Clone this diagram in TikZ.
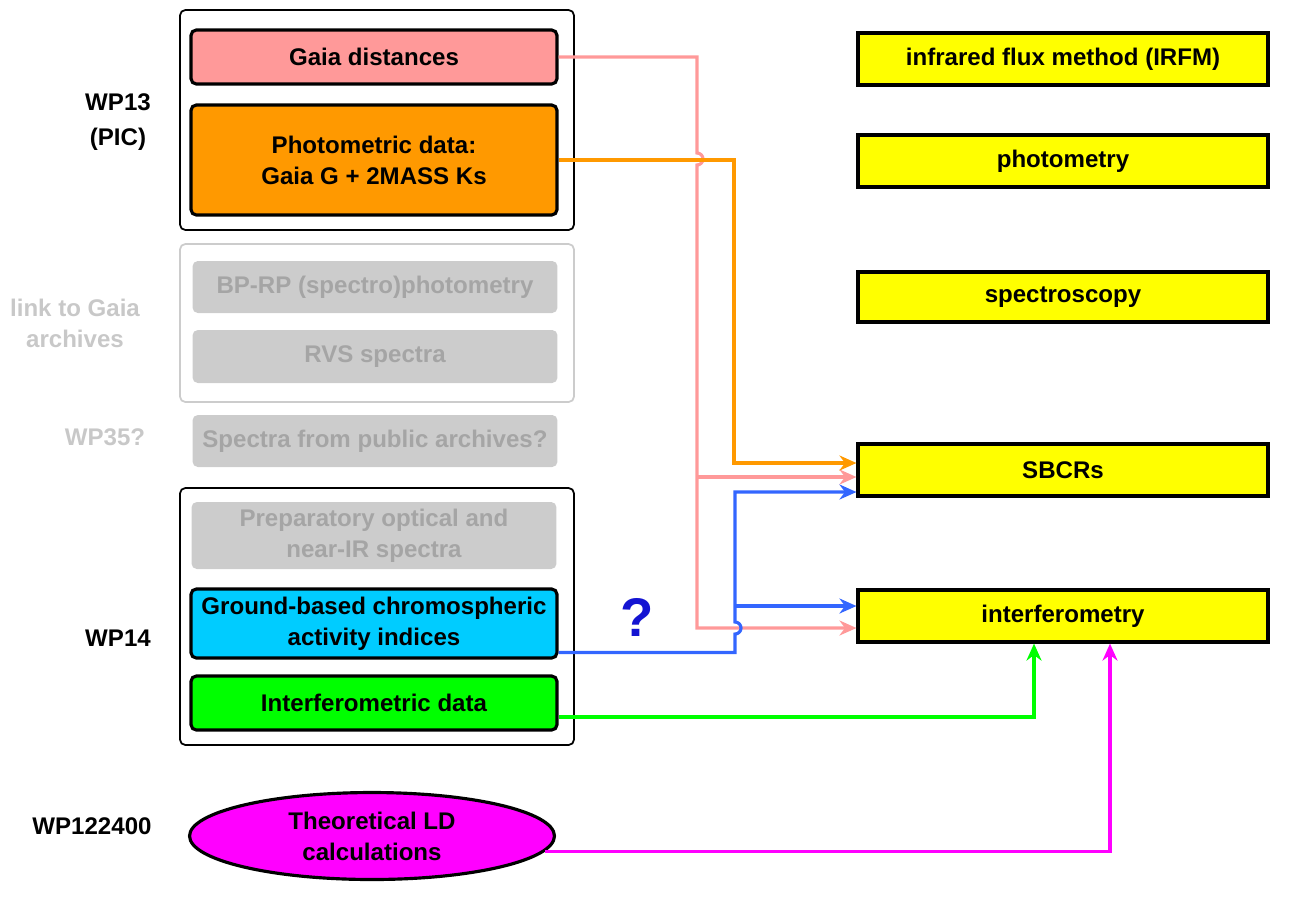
\documentclass[tikz,border=0pt]{standalone}
\usepackage{fontspec}
\setmainfont{Liberation Sans}
\usetikzlibrary{arrows.meta, positioning, shapes.geometric, calc}
\definecolor{boxpink}{RGB}{255,153,153}
\definecolor{boxorange}{RGB}{255,153,0}
\definecolor{boxcyan}{RGB}{0,204,255}
\definecolor{boxgreen}{RGB}{0,255,0}
\definecolor{boxmagenta}{RGB}{255,0,255}
\definecolor{boxyellow}{RGB}{255,255,0}
\definecolor{boxgrey}{RGB}{204,204,204}
\definecolor{textgrey}{RGB}{165,165,165}
\definecolor{labelgrey}{RGB}{200,200,200}
\definecolor{lineblue}{RGB}{51,102,255}
\definecolor{qblue}{RGB}{20,20,210}

\begin{document}
\begin{tikzpicture}[
  x=0.02cm, y=-0.02cm,
  font=\fontsize{13.7}{17.6}\selectfont\bfseries,
  group/.style={draw, rounded corners=3pt, line width=1pt, minimum width=7.88cm},
  src/.style={draw, rounded corners=3pt, line width=1.8pt, minimum width=7.32cm, align=center},
  faded/.style={fill=boxgrey, text=textgrey, rounded corners=3pt, minimum width=7.3cm, align=center},
  meth/.style={draw, line width=1.8pt, fill=boxyellow, minimum width=8.2cm, minimum height=1.04cm},
  wp/.style={align=center},
  arr/.style={-{Stealth[length=3.4mm, width=3mm]}, line width=1.8pt}
]
\useasboundingbox (0,0) rectangle (1307,897);

% work packages
\node[group, minimum height=4.4cm] (grpthirteen) at (377,120) {};
\node[group, draw=boxgrey, minimum height=3.16cm] (grparchive) at (377,323) {};
\node[group, minimum height=5.14cm] (grpfourteen) at (377,616.5) {};

\node[wp] (wpthirteen) at (118,122) {WP13\\[2pt](PIC)};
\node[wp, text=labelgrey] (wplink) at (75,323) {link to Gaia\\archives};
\node[wp, text=labelgrey] (wpthirtyfive) at (105,437) {WP35?};
\node[wp] (wpfourteen) at (118,638) {WP14};
\node[wp] (wpltheory) at (92,826) {WP122400};

% inputs
\node[src, fill=boxpink, minimum height=1.08cm] (dist) at (374,57) {Gaia distances};
\node[src, fill=boxorange, minimum height=2.2cm] (phot) at (374,160) {Photometric data:\\Gaia G + 2MASS Ks};
\node[faded, minimum height=1.04cm] (bprp) at (375,287) {BP-RP (spectro)photometry};
\node[faded, minimum height=1.06cm] (rvs) at (375,356.5) {RVS spectra};
\node[faded, minimum height=1.04cm] (pubspec) at (375,441) {Spectra from public archives?};
\node[faded, minimum height=1.34cm] (prep) at (374,535.5) {Preparatory optical and\\near-IR spectra};
\node[src, fill=boxcyan, minimum height=1.38cm] (chrom) at (374,623.5) {Ground-based chromospheric\\activity indices};
\node[src, fill=boxgreen, minimum height=1.08cm] (idata) at (374,703) {Interferometric data};
\node[ellipse, draw, line width=1.8pt, fill=boxmagenta, minimum width=7.3cm, minimum height=1.74cm, align=center] (ldcalc) at (372,836) {Theoretical LD\\calculations};

% methods
\node[meth] (irfm) at (1063,59) {infrared flux method (IRFM)};
\node[meth] (photo) at (1063,161) {photometry};
\node[meth, minimum height=1.0cm] (spec) at (1063,297) {spectroscopy};
\node[meth] (sbcr) at (1063,470) {SBCRs};
\node[meth] (interf) at (1063,616) {interferometry};

\node[text=qblue, font=\fontsize{31}{31}\selectfont\bfseries] (qmark) at (637,617) {?};

% connectors
\coordinate (pinkj) at (697,477);
\coordinate (orangej) at (734,463);
\coordinate (bluej) at (735,492);
\coordinate (bluek) at (735,606);

\draw[arr, boxpink] (dist.east) -| (697,153) arc[start angle=90, end angle=-90, radius=0.12cm] |- ([yshift=-0.24cm]interf.west);
\draw[arr, boxpink] (pinkj) -- (pinkj -| sbcr.west);
\draw[arr, boxorange] (phot.east) -| (orangej) -- (orangej -| sbcr.west);
\draw[arr, lineblue] ([yshift=-0.58cm]chrom.east) -| (735,634) arc[start angle=-90, end angle=90, radius=0.12cm] -- (bluej) -- (bluej -| sbcr.west);
\draw[arr, lineblue] (bluek) -- (bluek -| interf.west);
\draw[arr, boxgreen] ([yshift=-0.28cm]idata.east) -| ([xshift=-0.58cm]interf.south);
\draw[arr, boxmagenta] (ldcalc.-5.4) -| ([xshift=0.94cm]interf.south);
\end{tikzpicture}
\end{document}
